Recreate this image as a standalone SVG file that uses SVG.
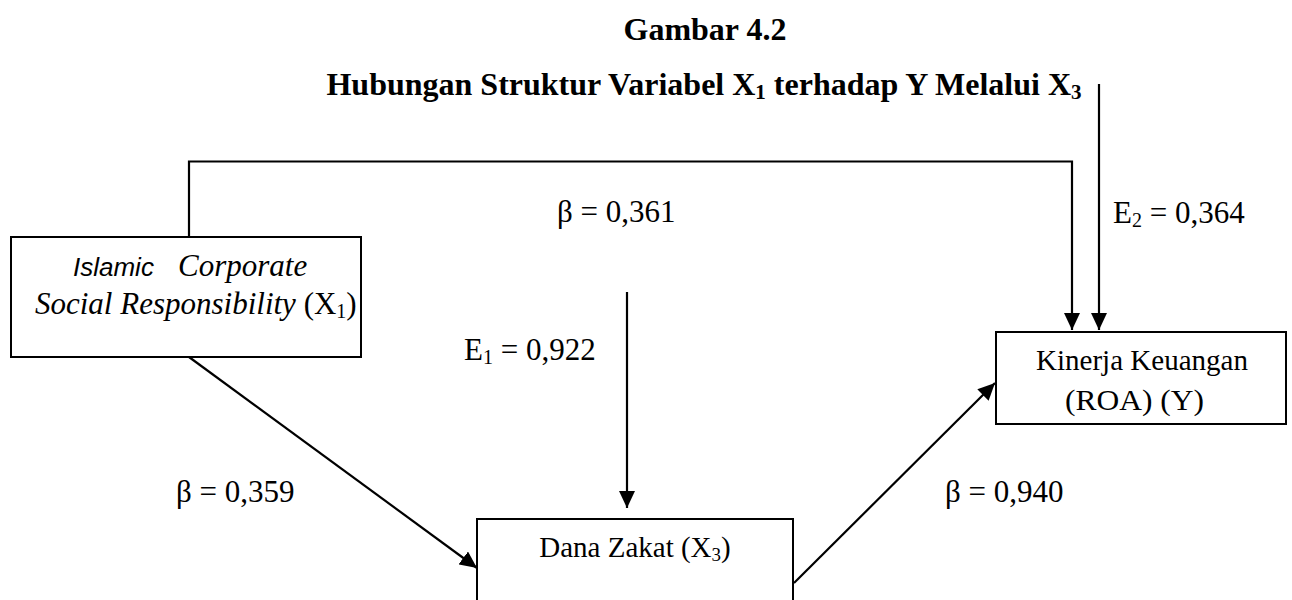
<svg xmlns="http://www.w3.org/2000/svg" width="1292" height="600" viewBox="0 0 1292 600">
<style>
.title{font-family:"Liberation Serif",serif;font-weight:bold;font-size:32px;fill:#000}
.t{font-family:"Liberation Serif",serif;font-size:31px;fill:#000}
.bt{font-family:"Liberation Serif",serif;font-size:30px;fill:#000}
.box{fill:#fff;stroke:#000;stroke-width:2}
.ln{fill:none;stroke:#000;stroke-width:2.2}
</style>
<defs>
<marker id="ah" markerUnits="userSpaceOnUse" markerWidth="18" markerHeight="16" refX="17" refY="8" orient="auto">
<path d="M0,0 L17,8 L0,16 Z" fill="#000"/>
</marker>
</defs>
<rect width="1292" height="600" fill="#fff"/>
<g id="title">
<text class="title" x="705" y="40" text-anchor="middle">Gambar 4.2</text>
<text class="title" x="704" y="95" text-anchor="middle">Hubungan Struktur Variabel X<tspan font-size="21" dy="4">1</tspan><tspan dy="-4"> terhadap Y Melalui X</tspan><tspan font-size="21" dy="4">3</tspan></text>
</g>
<g id="connectors">
<polyline class="ln" points="189,237 189,161.5 1072,161.5 1072,330" marker-end="url(#ah)"/>
<line class="ln" x1="1099" y1="84" x2="1099" y2="330" marker-end="url(#ah)"/>
<line class="ln" x1="627" y1="292" x2="627" y2="508" marker-end="url(#ah)"/>
<line class="ln" x1="189" y1="357" x2="477" y2="568" marker-end="url(#ah)"/>
<line class="ln" x1="794" y1="583" x2="995" y2="383" marker-end="url(#ah)"/>
</g>
<g id="node-x1">
<rect class="box" x="11" y="237" width="350" height="120"/>
<text x="73" y="276" font-family="Liberation Sans, sans-serif" font-style="italic" font-size="26">Islamic</text>
<text class="t" x="178" y="276" font-style="italic">Corporate</text>
<text class="t" x="35" y="314"><tspan font-style="italic">Social Responsibility</tspan> (X<tspan font-size="20" dy="4">1</tspan><tspan dy="-4">)</tspan></text>
</g>
<g id="node-x3">
<rect class="box" x="477" y="519" width="316" height="100"/>
<text class="bt" x="635" y="557" text-anchor="middle" style="font-size:29px">Dana Zakat (X<tspan font-size="19" dy="4">3</tspan><tspan dy="-4">)</tspan></text>
</g>
<g id="node-y">
<rect class="box" x="996" y="332" width="290" height="92"/>
<text class="bt" x="1036" y="370" textLength="212" lengthAdjust="spacingAndGlyphs">Kinerja Keuangan</text>
<text class="bt" x="1065" y="410" textLength="139" lengthAdjust="spacingAndGlyphs">(ROA) (Y)</text>
</g>
<g id="labels">
<text class="t" x="557" y="222">β = 0,361</text>
<text class="t" x="1113" y="223">E<tspan font-size="20" dy="4">2</tspan><tspan dy="-4"> = 0,364</tspan></text>
<text class="t" x="464" y="360">E<tspan font-size="20" dy="4">1</tspan><tspan dy="-4"> = 0,922</tspan></text>
<text class="t" x="176" y="502">β = 0,359</text>
<text class="t" x="945" y="502">β = 0,940</text>
</g>
</svg>
